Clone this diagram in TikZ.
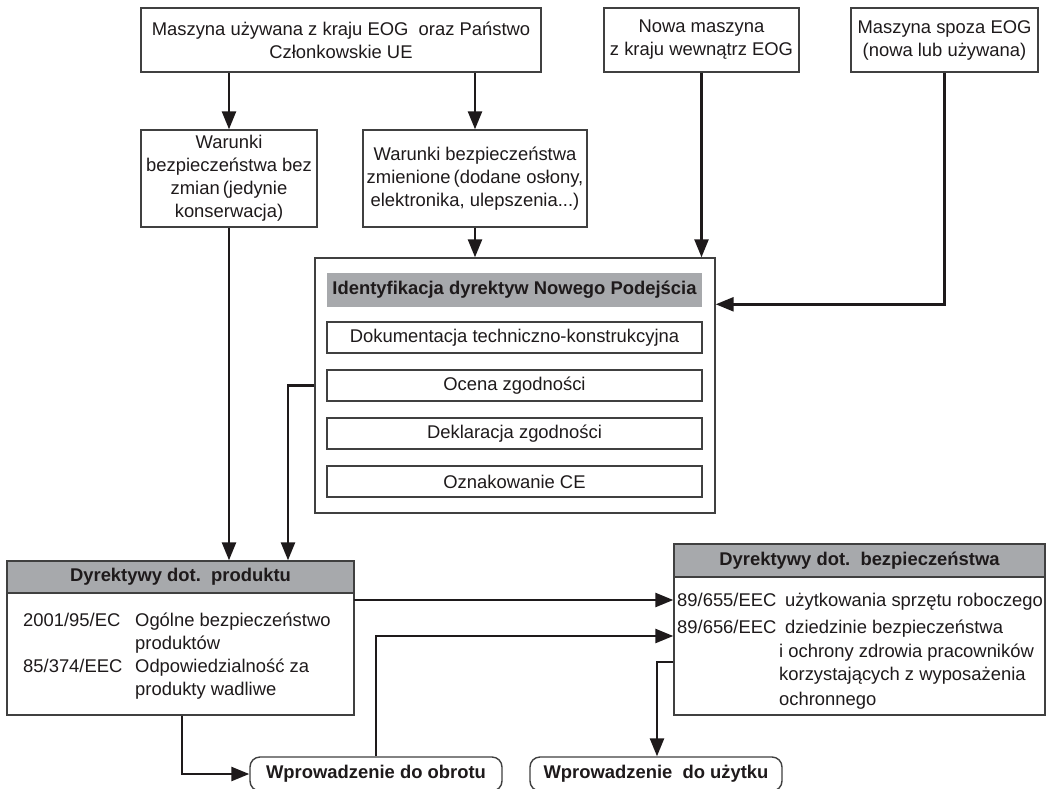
\documentclass[tikz,border=0pt]{standalone}
\usepackage{fontspec}
\setmainfont{Liberation Sans}
\usetikzlibrary{arrows.meta,calc}
\definecolor{boxline}{HTML}{404040}
\definecolor{hdrgray}{HTML}{A7A9AC}
\definecolor{ink}{HTML}{1E1A1B}
\newcommand{\fs}{\fontsize{18.4}{23}\selectfont}
\tikzset{
  box/.style={draw=boxline, line width=1.4pt, inner sep=0pt, align=center, font=\fs, text=ink},
  hdr/.style={fill=hdrgray, inner sep=0pt, align=center, font=\fs\bfseries, text=ink},
  txt/.style={inner sep=0pt, anchor=base west, font=\fs, text=ink},
  conn/.style={draw=ink, line width=2.5pt, -{Triangle[length=18pt,width=14pt]}},
  pill/.style={draw=boxline, line width=1.4pt, rounded corners=10pt, inner sep=0pt, font=\fs\bfseries, text=ink}
}
\begin{document}
\begin{tikzpicture}[x=1pt,y=-1pt]
\clip (0,0) rectangle (1053,788);
\fill[white] (0,0) rectangle (1053,788);

% top sources
\node[box, minimum width=400pt, minimum height=64pt] (top1) at (341,40)
  {Maszyna używana z kraju EOG\ \ oraz Państwo\\Członkowskie UE};
\node[box, minimum width=195pt, minimum height=64pt] (nowa) at (701.5,40)
  {Nowa maszyna\\z kraju wewnątrz EOG};
\node[box, minimum width=187pt, minimum height=64pt] (spoza) at (944.5,40)
  {Maszyna spoza EOG\\(nowa lub używana)};

% conditions
\node[box, minimum width=176pt, minimum height=97pt] (war1) at (229,178.5)
  {Warunki\\bezpieczeństwa bez\\zmian\,(jedynie\\konserwacja)};
\node[box, minimum width=224pt, minimum height=97pt] (war2) at (475,178.5)
  {Warunki bezpieczeństwa\\zmienione\,(dodane osłony,\\elektronika, ulepszenia...)};

% new approach block
\node[box, minimum width=400pt, minimum height=255pt] (big) at (515,385.5) {};
\node[hdr, minimum width=375pt, minimum height=34pt] (bighdr) at (514.5,290)
  {Identyfikacja dyrektyw Nowego Podejścia};
\node[box, minimum width=375pt, minimum height=31pt] (dok) at (514.5,337.5)
  {Dokumentacja techniczno-konstrukcyjna};
\node[box, minimum width=375pt, minimum height=31pt] (ocena) at (514.5,385.5)
  {Ocena zgodności};
\node[box, minimum width=375pt, minimum height=31pt] (dekl) at (514.5,433.5)
  {Deklaracja zgodności};
\node[box, minimum width=375pt, minimum height=31pt] (ozn) at (514.5,481.5)
  {Oznakowanie CE};

% product directives
\node[box, minimum width=347pt, minimum height=154pt] (prod) at (180.5,638) {};
\node[hdr, draw=boxline, line width=1.4pt, minimum width=347pt, minimum height=32pt] (prodhdr) at (180.5,577)
  {Dyrektywy dot.\ \ produktu};
\node[txt] (p1a) at (23,626) {2001/95/EC};
\node[txt] (p1b) at (135,626) {Ogólne bezpieczeństwo};
\node[txt] (p1c) at (135,649) {produktów};
\node[txt] (p2a) at (23,672) {85/374/EEC};
\node[txt] (p2b) at (135,672) {Odpowiedzialność za};
\node[txt] (p2c) at (135,695) {produkty wadliwe};

% safety directives
\node[box, minimum width=371pt, minimum height=171pt] (saf) at (859.5,629.5) {};
\node[hdr, draw=boxline, line width=1.4pt, minimum width=371pt, minimum height=33pt] (safhdr) at (859.5,560.5)
  {Dyrektywy dot.\ \ bezpieczeństwa};
\node[txt] (s1a) at (677,606) {89/655/EEC};
\node[txt] (s1b) at (785,606) {użytkowania sprzętu roboczego};
\node[txt] (s2a) at (677,633) {89/656/EEC};
\node[txt] (s2b) at (785,633) {dziedzinie bezpieczeństwa};
\node[txt] (s2c) at (779,657) {i ochrony zdrowia pracowników};
\node[txt] (s2d) at (779,680) {korzystających z wyposażenia};
\node[txt] (s2e) at (779,705) {ochronnego};

% outcomes
\node[pill, minimum width=252pt, minimum height=34pt] (obr) at (376,774) {Wprowadzenie do obrotu};
\node[pill, minimum width=252pt, minimum height=34pt] (uzy) at (656,774) {Wprowadzenie\ \ do użytku};

% helper coordinates
\coordinate (bl) at (288,385.5);
\coordinate (pa) at (354,600);
\coordinate (oa) at (376,636);
\coordinate (ua) at (657,662);
\coordinate (qa) at (182,774);

% connectors
\draw[conn] (top1.south -| war1.north) -- (war1.north);
\draw[conn] (top1.south -| war2.north) -- (war2.north);
\draw[conn] (war2.south) -- (war2.south |- big.north);
\draw[conn] (nowa.south) -- (nowa.south |- big.north);
\draw[conn] (spoza.south) |- ($(big.north east)+(0,47)$);
\draw[conn] (war1.south) -- (war1.south |- prod.north);
\draw[conn] (big.west) -- (bl) -- (bl |- prod.north);
\draw[conn] (pa) -- (pa -| saf.west);
\draw[conn] (oa |- obr.north) -- (oa) -- (oa -| saf.west);
\draw[conn] (ua -| saf.west) -- (ua) -- (ua |- uzy.north);
\draw[conn] (qa |- prod.south) -- (qa) -- (obr.west);
\end{tikzpicture}
\end{document}
